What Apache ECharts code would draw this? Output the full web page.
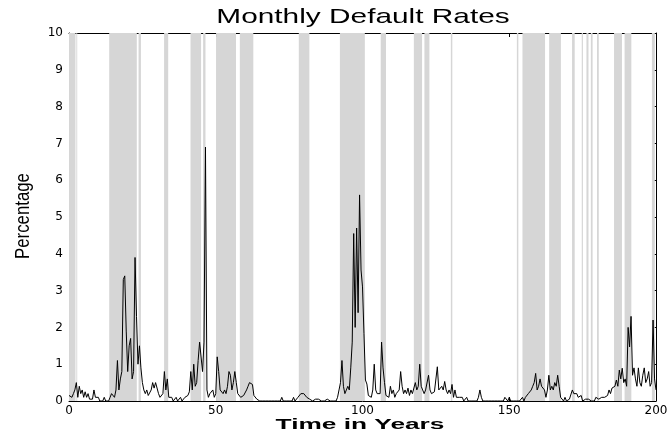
<!DOCTYPE html>
<html style="height: 100%">
    <head>
        <meta charset="utf-8">
    </head>
    <body style="height: 100%; margin: 0; background: #fff">
        <div id="container" style="height: 437px; width: 672px;"></div>

        <script type="text/javascript" src="https://cdn.jsdelivr.net/npm/echarts@6/dist/echarts.min.js"></script>
        <script type="text/javascript">
var dom = document.getElementById("container");
var myChart = echarts.init(dom);

var YEAR_STEP = 0.5;
var rate = [
0.15,0.2,0.1,0.2,0.3,0.5,0.1,0.4,0.2,0.3,0.1,0.25,0.1,0.2,0.05,0.1,0.05,0.3,0.1,0.05,
0.1,0,0.05,0,0.1,0,0.05,0,0.1,0.2,0.15,0.1,0.3,1.1,0.3,0.6,0.8,3.3,3.4,1.9,
0.8,1.5,1.7,0.6,0.8,3.9,2.3,1.0,1.5,0.9,0.5,0.3,0.2,0.3,0.15,0.1,0.3,0.5,0.35,0.5,
0.45,0.2,0.1,0.15,0.2,0.8,0.3,0.6,0.1,0.05,0.1,0,0.05,0.1,0,0.05,0.1,0,0.05,0.1,
0.1,0.15,0.25,0.8,0.3,1.0,0.4,0.5,1.1,1.6,1.6,0.8,1.6,6.9,0.3,0.1,0.2,0.2,0.3,0.1,
0.2,1.2,0.8,0.3,0.3,0.2,0.3,0.2,0.4,0.8,0.7,0.3,0.5,0.8,0.5,0.2,0.15,0.1,0.1,0.15,
0.1,0.3,0.4,0.5,0.55,0.45,0.15,0.1,0.05,0,0,0,0,0,0,0,0,0,0,0,
0,0,0,0,0,0.1,0,0,0,0,0,0,0,0.1,0,0,0.1,0.15,0.2,0.25,
0.2,0.15,0.1,0.15,0.05,0.1,0,0,0.05,0,0.05,0,0,0,0,0,0.05,0,0,0.05,
0,0,0,0.1,0.3,0.5,1.1,0.4,0.2,0.3,0.4,0.3,0.9,1.6,4.55,2.0,4.7,2.4,5.6,3.56,
3.1,1.84,0.57,0.46,0.15,0.2,0.1,0.3,1.0,0.3,0.2,0.25,0.2,1.6,0.9,0.5,0.15,0.2,0.1,0.4,
0.2,0.3,0.1,0.2,0.2,0.3,0.8,0.4,0.2,0.3,0.2,0.35,0.15,0.3,0.2,0.25,0.5,0.3,0.4,1.0,
0.4,0.3,0.2,0.3,0.3,0.7,0.3,0.2,0.2,0.25,0.3,0.93,0.3,0.3,0.4,0.3,0.53,0.3,0.2,0.3,
0.2,0.45,0.1,0.3,0.1,0.05,0.1,0.05,0.1,0,0,0.1,0,0,0,0,0,0,0,0.1,
0.3,0.1,0,0,0,0,0,0,0,0,0,0.05,0,0,0,0,0,0.1,0.1,0,
0.1,0,0,0,0,0,0,0,0,0.1,0,0.1,0.15,0.2,0.15,0.3,0.4,0.5,0.75,0.3,
0.4,0.6,0.4,0.4,0.3,0.1,0.3,0.7,0.3,0.4,0.3,0.5,0.4,0.7,0.4,0.1,0.05,0,0.1,0,
0,0.05,0.1,0.3,0.2,0.15,0.2,0.1,0.05,0.15,0,0,0.05,0,0.05,0,0,0,0,0.1,
0.1,0.05,0.1,0.1,0.05,0.1,0.1,0.15,0.3,0.2,0.35,0.3,0.4,0.57,0.4,0.84,0.6,0.89,0.5,0.6,
0.4,2.0,1.47,2.3,0.7,0.9,0.6,0.4,0.9,0.5,0.4,0.7,0.9,0.5,0.6,0.8,0.4,0.5,2.2,0.6,
0.3
];

// shaded periods, [start year, end year]
var periods = [
[0, 2.2], [2.5, 2.8],
[13.7, 23.1], [23.7, 24.5],
[32.4, 33.8],
[41.4, 45.0], [45.7, 46.5],
[50.1, 56.9], [58.2, 62.8],
[78.3, 81.9],
[92.3, 100.8],
[106.2, 108.0],
[117.5, 120.3], [121.1, 122.8],
[130.1, 130.6],
[152.6, 153.1],
[154.5, 162.2],
[163.6, 167.6],
[171.4, 172.3],
[174.7, 175.1], [176.3, 177.0], [177.8, 178.4], [179.9, 180.5],
[185.7, 188.4], [189.3, 191.6],
[198.6, 199.6]
];

var xTicks = [0, 200, 50];   // min, max, step
var yTicks = [0, 10, 1];

var seriesData = rate.map(function (v, i) {
	return [i * YEAR_STEP, v];
});

var shaded = periods.map(function (p) {
	return [{xAxis: p[0]}, {xAxis: p[1]}];
});

var frame = {show: true, onZero: false, lineStyle: {color: '#000', width: 1}};
var tick = {show: true, inside: true, length: 4, lineStyle: {color: '#000', width: 1}};
var tickFont = {fontFamily: 'DejaVu Sans', fontSize: 12, color: '#000'};

var option = {
	animation: false,
	backgroundColor: '#fff',
	grid: {left: 69, right: 16, top: 33, bottom: 36},
	xAxis: [
		{
			type: 'value', position: 'bottom',
			min: xTicks[0], max: xTicks[1], interval: xTicks[2],
			axisLine: frame, axisTick: tick,
			axisLabel: Object.assign({margin: 4}, tickFont),
			splitLine: {show: false}
		},
		{
			type: 'value', position: 'top',
			min: xTicks[0], max: xTicks[1], interval: xTicks[2],
			axisLine: frame, axisTick: tick,
			axisLabel: {show: false},
			splitLine: {show: false}
		}
	],
	yAxis: [
		{
			type: 'value', position: 'left',
			min: yTicks[0], max: yTicks[1], interval: yTicks[2],
			axisLine: frame, axisTick: tick,
			axisLabel: Object.assign({margin: 6}, tickFont, {fontSize: 12}),
			splitLine: {show: false}
		},
		{
			type: 'value', position: 'right',
			min: yTicks[0], max: yTicks[1], interval: yTicks[2],
			axisLine: frame, axisTick: tick,
			axisLabel: {show: false},
			splitLine: {show: false}
		}
	],
	graphic: [
		{
			type: 'text', x: 363, y: 17, scaleX: 1.42,
			style: {text: 'Monthly Default Rates', font: '21px "Liberation Sans"', fill: '#000',
				align: 'center', verticalAlign: 'middle', textAlign: 'center', textVerticalAlign: 'middle'}
		},
		{
			type: 'text', x: 360, y: 425, scaleX: 1.75,
			style: {text: 'Time in Years', font: 'bold 15px "Liberation Sans"', fill: '#000',
				align: 'center', verticalAlign: 'middle', textAlign: 'center', textVerticalAlign: 'middle'}
		},
		{
			type: 'text', x: 23, y: 216, rotation: Math.PI / 2, scaleX: 0.8,
			style: {text: 'Percentage', font: '21px "Liberation Sans"', fill: '#000',
				align: 'center', verticalAlign: 'middle', textAlign: 'center', textVerticalAlign: 'middle'}
		}
	],
	series: [
		{
			name: 'Monthly Default Rates',
			type: 'line',
			xAxisIndex: 0,
			yAxisIndex: 0,
			smooth: false,
			showSymbol: false,
			sampling: 'none',
			lineStyle: {color: '#000', width: 1},
			data: seriesData,
			markArea: {
				silent: true,
				itemStyle: {color: '#d6d6d6'},
				data: shaded
			},
			z: 5
		}
	]
};

if (option && typeof option === 'object') {
	myChart.setOption(option);
}
        </script>
    </body>
</html>
